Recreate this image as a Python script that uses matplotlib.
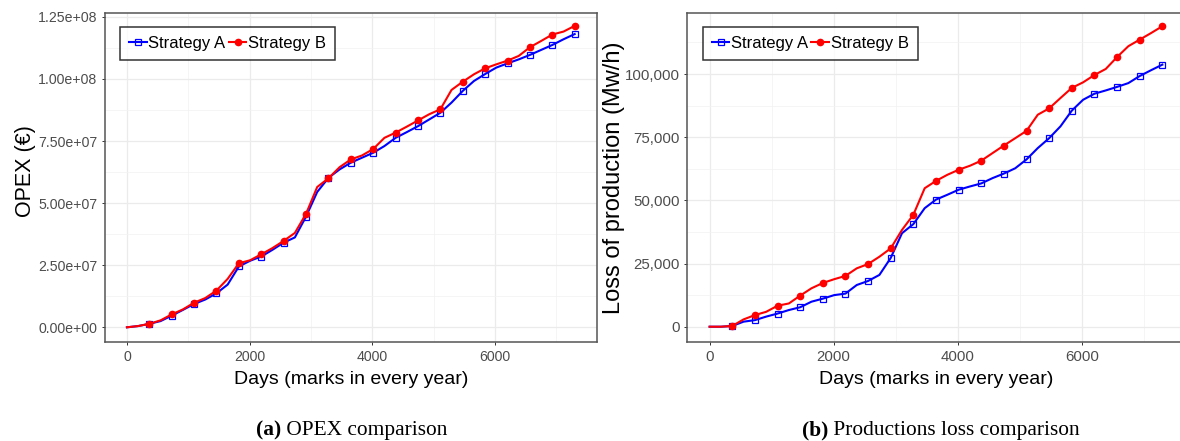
import matplotlib
matplotlib.use("Agg")
import matplotlib.pyplot as plt
from matplotlib.ticker import FuncFormatter, MultipleLocator

plt.rcParams["font.family"] = ["Liberation Sans", "DejaVu Sans"]

# Sampled every half year, markers every full year (365 days).
DAYS = [0, 182, 365, 548, 730, 912, 1095, 1278, 1460, 1642, 1825, 2008, 2190,
        2372, 2555, 2738, 2920, 3102, 3285, 3468, 3650, 3832, 4015, 4198, 4380,
        4562, 4745, 4928, 5110, 5292, 5475, 5658, 5840, 6022, 6205, 6388, 6570,
        6752, 6935, 7118, 7300]

# OPEX, in units of 1e7 euro
OPEX_A = [0, 0.05, 0.14, 0.25, 0.47, 0.70, 0.94, 1.12, 1.37, 1.72, 2.45, 2.68,
          2.85, 3.12, 3.41, 3.62, 4.46, 5.45, 6.02, 6.36, 6.63, 6.83, 7.03, 7.30,
          7.63, 7.86, 8.10, 8.37, 8.64, 9.05, 9.52, 9.92, 10.20, 10.46, 10.63,
          10.79, 10.97, 11.17, 11.37, 11.60, 11.81]
OPEX_B = [0, 0.05, 0.14, 0.28, 0.52, 0.72, 0.99, 1.18, 1.48, 1.95, 2.58, 2.70,
          2.94, 3.19, 3.48, 3.80, 4.57, 5.65, 6.00, 6.45, 6.76, 6.92, 7.18, 7.63,
          7.84, 8.08, 8.33, 8.58, 8.78, 9.56, 9.89, 10.19, 10.43, 10.59, 10.74,
          10.93, 11.28, 11.53, 11.79, 11.91, 12.14]

# Loss of production, in thousands of Mw/h
LOSS_A = [0, 0, 0.3, 2.0, 2.6, 4.0, 5.2, 6.6, 7.7, 9.9, 11.1, 12.5, 13.1, 16.5,
          18.1, 20.5, 27.2, 37.0, 40.6, 46.9, 50.3, 52.2, 54.2, 55.5, 56.7, 58.8,
          60.6, 62.7, 66.2, 70.7, 74.6, 79.3, 85.5, 89.8, 92.2, 93.5, 94.9, 96.4,
          99.2, 101.5, 103.7]
LOSS_B = [0, 0, 0.3, 2.9, 4.6, 5.9, 8.3, 9.2, 12.3, 15.2, 17.3, 18.8, 20.1,
          23.1, 24.8, 27.7, 31.0, 38.3, 44.3, 54.8, 57.7, 60.1, 62.1, 63.7, 65.7,
          68.7, 71.7, 74.6, 77.5, 83.9, 86.4, 90.5, 94.5, 96.7, 99.6, 102.0,
          106.7, 111.0, 113.6, 116.2, 118.9]

LABELS = ["Strategy A", "Strategy B"]
BLUE = "#0000FF"
RED = "#FF0000"
TICK_GREY = "#4D4D4D"
BORDER = "#555555"

YEAR_MARKS = list(range(2, len(DAYS), 2))


def style_panel(ax, ylim, ystep, fmt, ylabel, ylabel_pos, ylabel_size, tick_size):
    ax.set_xlim(-365, 7665)
    ax.set_ylim(*ylim)
    ax.xaxis.set_major_locator(MultipleLocator(2000))
    ax.xaxis.set_minor_locator(MultipleLocator(1000))
    ax.yaxis.set_major_locator(MultipleLocator(ystep))
    ax.yaxis.set_minor_locator(MultipleLocator(ystep / 2))
    ax.yaxis.set_major_formatter(FuncFormatter(fmt))
    ax.grid(which="major", color="#EBEBEB", linewidth=0.9)
    ax.grid(which="minor", color="#F2F2F2", linewidth=0.5)
    ax.set_axisbelow(True)
    ax.tick_params(which="major", length=2.5, width=0.7, color="#333333",
                   labelsize=tick_size, labelcolor=TICK_GREY, pad=2.5)
    ax.tick_params(axis="x", which="major", pad=3.2)
    ax.tick_params(which="minor", length=0)
    for sp in ax.spines.values():
        sp.set_color(BORDER)
        sp.set_linewidth(1.1)
    ax.set_xlabel("Days (marks in every year)", fontsize=14)
    ax.xaxis.set_label_coords(0.5, -0.086)
    ax.set_ylabel(ylabel, fontsize=ylabel_size)
    ax.yaxis.set_label_coords(*ylabel_pos)


def draw_lines(ax, a, b, scale):
    ax.plot(DAYS, [v * scale for v in a], color=BLUE, linewidth=1.5,
            marker="s", markersize=5, markerfacecolor="none",
            markeredgecolor=BLUE, markeredgewidth=0.9,
            markevery=YEAR_MARKS, label=LABELS[0])
    ax.plot(DAYS, [v * scale for v in b], color=RED, linewidth=1.5,
            marker="o", markersize=4.5, markevery=YEAR_MARKS, label=LABELS[1])
    leg = ax.legend(loc="upper left", bbox_to_anchor=(0.0315, 0.9575),
                    borderaxespad=0, ncol=2, fontsize=12, frameon=True,
                    fancybox=False, handlelength=1.05, handletextpad=0.1,
                    columnspacing=0.2, borderpad=0.55)
    leg.get_frame().set_edgecolor("black")
    leg.get_frame().set_linewidth(1.1)


def caption(fig, x, y, bold, rest):
    t = fig.text(x, y, bold, fontsize=15.4, fontweight="bold",
                 family="Liberation Serif", ha="left", va="baseline")
    fig.axes[0].annotate(rest, xy=(1, 0), xycoords=t, fontsize=15.4,
                         family="Liberation Serif", ha="left", va="bottom",
                         annotation_clip=False)


def main():
    fig = plt.figure(figsize=(11.8, 4.41), dpi=100)
    ax1 = fig.add_axes([0.0886, 0.2238, 0.4174, 0.7474])
    ax2 = fig.add_axes([0.5822, 0.2238, 0.4220, 0.7474])

    draw_lines(ax1, OPEX_A, OPEX_B, 1e7)
    style_panel(ax1, (-6.04e6, 1.267e8), 2.5e7,
                lambda v, p: f"{v:.2e}", "OPEX (€)", (-0.14, 0.52), 15.5, 10.2)

    draw_lines(ax2, LOSS_A, LOSS_B, 1e3)
    style_panel(ax2, (-6170, 124260), 25000,
                lambda v, p: f"{int(round(v)):,}", "Loss of production (Mw/h)",
                (-0.124, 0.5), 17, 10.8)

    caption(fig, 256 / 1180, 1 - 435 / 441, "(a)", " OPEX comparison")
    caption(fig, 802 / 1180, 1 - 435 / 441, "(b)", " Productions loss comparison")

    fig.savefig("out.png", dpi=100)
    plt.close(fig)


if __name__ == "__main__":
    main()
